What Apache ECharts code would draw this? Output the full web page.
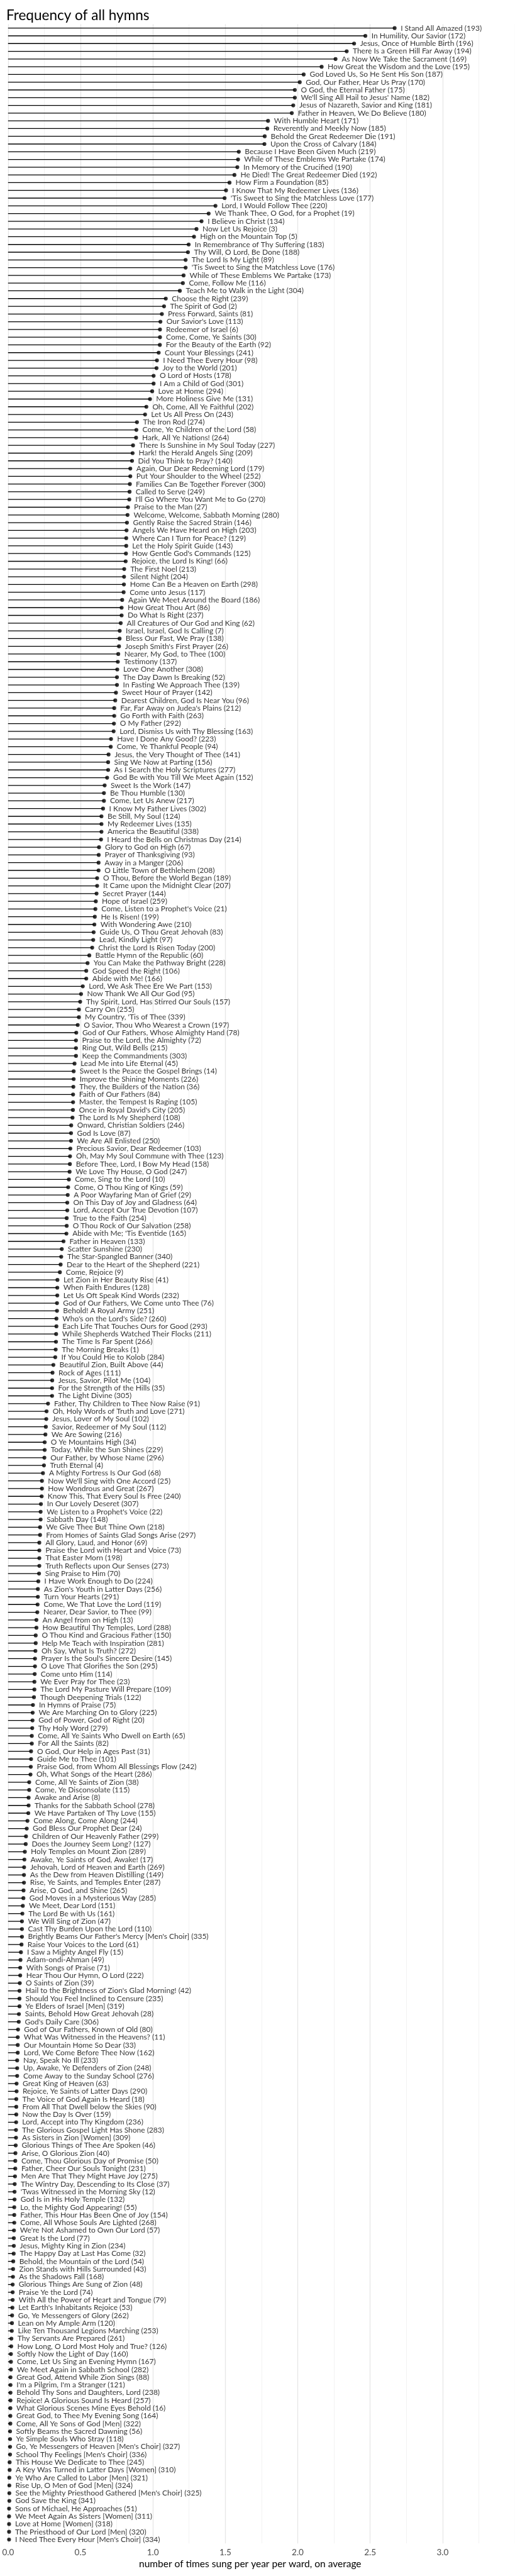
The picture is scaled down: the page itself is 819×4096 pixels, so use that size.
<!DOCTYPE html>
<html><head><meta charset="utf-8">
<script src="https://cdn.jsdelivr.net/npm/echarts@6/dist/echarts.min.js"></script>
<style>html,body{margin:0;padding:0;background:#fff}#c{width:819px;height:4096px}</style>
</head><body><div id="c"></div>
<script>
const hymnTitles = [
"I Stand All Amazed","In Humility, Our Savior","Jesus, Once of Humble Birth","There Is a Green Hill Far Away","As Now We Take the Sacrament","How Great the Wisdom and the Love","God Loved Us, So He Sent His Son","God, Our Father, Hear Us Pray","O God, the Eternal Father","We'll Sing All Hail to Jesus' Name",
"Jesus of Nazareth, Savior and King","Father in Heaven, We Do Believe","With Humble Heart","Reverently and Meekly Now","Behold the Great Redeemer Die","Upon the Cross of Calvary","Because I Have Been Given Much","While of These Emblems We Partake","In Memory of the Crucified","He Died! The Great Redeemer Died",
"How Firm a Foundation","I Know That My Redeemer Lives","'Tis Sweet to Sing the Matchless Love","Lord, I Would Follow Thee","We Thank Thee, O God, for a Prophet","I Believe in Christ","Now Let Us Rejoice","High on the Mountain Top","In Remembrance of Thy Suffering","Thy Will, O Lord, Be Done",
"The Lord Is My Light","'Tis Sweet to Sing the Matchless Love","While of These Emblems We Partake","Come, Follow Me","Teach Me to Walk in the Light","Choose the Right","The Spirit of God","Press Forward, Saints","Our Savior's Love","Redeemer of Israel",
"Come, Come, Ye Saints","For the Beauty of the Earth","Count Your Blessings","I Need Thee Every Hour","Joy to the World","O Lord of Hosts","I Am a Child of God","Love at Home","More Holiness Give Me","Oh, Come, All Ye Faithful",
"Let Us All Press On","The Iron Rod","Come, Ye Children of the Lord","Hark, All Ye Nations!","There Is Sunshine in My Soul Today","Hark! the Herald Angels Sing","Did You Think to Pray?","Again, Our Dear Redeeming Lord","Put Your Shoulder to the Wheel","Families Can Be Together Forever",
"Called to Serve","I'll Go Where You Want Me to Go","Praise to the Man","Welcome, Welcome, Sabbath Morning","Gently Raise the Sacred Strain","Angels We Have Heard on High","Where Can I Turn for Peace?","Let the Holy Spirit Guide","How Gentle God's Commands","Rejoice, the Lord Is King!",
"The First Noel","Silent Night","Home Can Be a Heaven on Earth","Come unto Jesus","Again We Meet Around the Board","How Great Thou Art","Do What Is Right","All Creatures of Our God and King","Israel, Israel, God Is Calling","Bless Our Fast, We Pray",
"Joseph Smith's First Prayer","Nearer, My God, to Thee","Testimony","Love One Another","The Day Dawn Is Breaking","In Fasting We Approach Thee","Sweet Hour of Prayer","Dearest Children, God Is Near You","Far, Far Away on Judea's Plains","Go Forth with Faith",
"O My Father","Lord, Dismiss Us with Thy Blessing","Have I Done Any Good?","Come, Ye Thankful People","Jesus, the Very Thought of Thee","Sing We Now at Parting","As I Search the Holy Scriptures","God Be with You Till We Meet Again","Sweet Is the Work","Be Thou Humble",
"Come, Let Us Anew","I Know My Father Lives","Be Still, My Soul","My Redeemer Lives","America the Beautiful","I Heard the Bells on Christmas Day","Glory to God on High","Prayer of Thanksgiving","Away in a Manger","O Little Town of Bethlehem",
"O Thou, Before the World Began","It Came upon the Midnight Clear","Secret Prayer","Hope of Israel","Come, Listen to a Prophet's Voice","He Is Risen!","With Wondering Awe","Guide Us, O Thou Great Jehovah","Lead, Kindly Light","Christ the Lord Is Risen Today",
"Battle Hymn of the Republic","You Can Make the Pathway Bright","God Speed the Right","Abide with Me!","Lord, We Ask Thee Ere We Part","Now Thank We All Our God","Thy Spirit, Lord, Has Stirred Our Souls","Carry On","My Country, 'Tis of Thee","O Savior, Thou Who Wearest a Crown",
"God of Our Fathers, Whose Almighty Hand","Praise to the Lord, the Almighty","Ring Out, Wild Bells","Keep the Commandments","Lead Me into Life Eternal","Sweet Is the Peace the Gospel Brings","Improve the Shining Moments","They, the Builders of the Nation","Faith of Our Fathers","Master, the Tempest Is Raging",
"Once in Royal David's City","The Lord Is My Shepherd","Onward, Christian Soldiers","God Is Love","We Are All Enlisted","Precious Savior, Dear Redeemer","Oh, May My Soul Commune with Thee","Before Thee, Lord, I Bow My Head","We Love Thy House, O God","Come, Sing to the Lord",
"Come, O Thou King of Kings","A Poor Wayfaring Man of Grief","On This Day of Joy and Gladness","Lord, Accept Our True Devotion","True to the Faith","O Thou Rock of Our Salvation","Abide with Me; 'Tis Eventide","Father in Heaven","Scatter Sunshine","The Star-Spangled Banner",
"Dear to the Heart of the Shepherd","Come, Rejoice","Let Zion in Her Beauty Rise","When Faith Endures","Let Us Oft Speak Kind Words","God of Our Fathers, We Come unto Thee","Behold! A Royal Army","Who's on the Lord's Side?","Each Life That Touches Ours for Good","While Shepherds Watched Their Flocks",
"The Time Is Far Spent","The Morning Breaks","If You Could Hie to Kolob","Beautiful Zion, Built Above","Rock of Ages","Jesus, Savior, Pilot Me","For the Strength of the Hills","The Light Divine","Father, Thy Children to Thee Now Raise","Oh, Holy Words of Truth and Love",
"Jesus, Lover of My Soul","Savior, Redeemer of My Soul","We Are Sowing","O Ye Mountains High","Today, While the Sun Shines","Our Father, by Whose Name","Truth Eternal","A Mighty Fortress Is Our God","Now We'll Sing with One Accord","How Wondrous and Great",
"Know This, That Every Soul Is Free","In Our Lovely Deseret","We Listen to a Prophet's Voice","Sabbath Day","We Give Thee But Thine Own","From Homes of Saints Glad Songs Arise","All Glory, Laud, and Honor","Praise the Lord with Heart and Voice","That Easter Morn","Truth Reflects upon Our Senses",
"Sing Praise to Him","I Have Work Enough to Do","As Zion's Youth in Latter Days","Turn Your Hearts","Come, We That Love the Lord","Nearer, Dear Savior, to Thee","An Angel from on High","How Beautiful Thy Temples, Lord","O Thou Kind and Gracious Father","Help Me Teach with Inspiration",
"Oh Say, What Is Truth?","Prayer Is the Soul's Sincere Desire","O Love That Glorifies the Son","Come unto Him","We Ever Pray for Thee","The Lord My Pasture Will Prepare","Though Deepening Trials","In Hymns of Praise","We Are Marching On to Glory","God of Power, God of Right",
"Thy Holy Word","Come, All Ye Saints Who Dwell on Earth","For All the Saints","O God, Our Help in Ages Past","Guide Me to Thee","Praise God, from Whom All Blessings Flow","Oh, What Songs of the Heart","Come, All Ye Saints of Zion","Come, Ye Disconsolate","Awake and Arise",
"Thanks for the Sabbath School","We Have Partaken of Thy Love","Come Along, Come Along","God Bless Our Prophet Dear","Children of Our Heavenly Father","Does the Journey Seem Long?","Holy Temples on Mount Zion","Awake, Ye Saints of God, Awake!","Jehovah, Lord of Heaven and Earth","As the Dew from Heaven Distilling",
"Rise, Ye Saints, and Temples Enter","Arise, O God, and Shine","God Moves in a Mysterious Way","We Meet, Dear Lord","The Lord Be with Us","We Will Sing of Zion","Cast Thy Burden Upon the Lord","Brightly Beams Our Father's Mercy [Men's Choir]","Raise Your Voices to the Lord","I Saw a Mighty Angel Fly",
"Adam-ondi-Ahman","With Songs of Praise","Hear Thou Our Hymn, O Lord","O Saints of Zion","Hail to the Brightness of Zion's Glad Morning!","Should You Feel Inclined to Censure","Ye Elders of Israel [Men]","Saints, Behold How Great Jehovah","God's Daily Care","God of Our Fathers, Known of Old",
"What Was Witnessed in the Heavens?","Our Mountain Home So Dear","Lord, We Come Before Thee Now","Nay, Speak No Ill","Up, Awake, Ye Defenders of Zion","Come Away to the Sunday School","Great King of Heaven","Rejoice, Ye Saints of Latter Days","The Voice of God Again Is Heard","From All That Dwell below the Skies",
"Now the Day Is Over","Lord, Accept into Thy Kingdom","The Glorious Gospel Light Has Shone","As Sisters in Zion [Women]","Glorious Things of Thee Are Spoken","Arise, O Glorious Zion","Come, Thou Glorious Day of Promise","Father, Cheer Our Souls Tonight","Men Are That They Might Have Joy","The Wintry Day, Descending to Its Close",
"'Twas Witnessed in the Morning Sky","God Is in His Holy Temple","Lo, the Mighty God Appearing!","Father, This Hour Has Been One of Joy","Come, All Whose Souls Are Lighted","We're Not Ashamed to Own Our Lord","Great Is the Lord","Jesus, Mighty King in Zion","The Happy Day at Last Has Come","Behold, the Mountain of the Lord",
"Zion Stands with Hills Surrounded","As the Shadows Fall","Glorious Things Are Sung of Zion","Praise Ye the Lord","With All the Power of Heart and Tongue","Let Earth's Inhabitants Rejoice","Go, Ye Messengers of Glory","Lean on My Ample Arm","Like Ten Thousand Legions Marching","Thy Servants Are Prepared",
"How Long, O Lord Most Holy and True?","Softly Now the Light of Day","Come, Let Us Sing an Evening Hymn","We Meet Again in Sabbath School","Great God, Attend While Zion Sings","I'm a Pilgrim, I'm a Stranger","Behold Thy Sons and Daughters, Lord","Rejoice! A Glorious Sound Is Heard","What Glorious Scenes Mine Eyes Behold","Great God, to Thee My Evening Song",
"Come, All Ye Sons of God [Men]","Softly Beams the Sacred Dawning","Ye Simple Souls Who Stray","Go, Ye Messengers of Heaven [Men's Choir]","School Thy Feelings [Men's Choir]","This House We Dedicate to Thee","A Key Was Turned in Latter Days [Women]","Ye Who Are Called to Labor [Men]","Rise Up, O Men of God [Men]","See the Mighty Priesthood Gathered [Men's Choir]",
"God Save the King","Sons of Michael, He Approaches","We Meet Again As Sisters [Women]","Love at Home [Women]","The Priesthood of Our Lord [Men]","I Need Thee Every Hour [Men's Choir]"
];
const hymnNumbers = [
193,172,196,194,169,195,187,170,175,182,
181,180,171,185,191,184,219,174,190,192,
85,136,177,220,19,134,3,5,183,188,
89,176,173,116,304,239,2,81,113,6,
30,92,241,98,201,178,301,294,131,202,
243,274,58,264,227,209,140,179,252,300,
249,270,27,280,146,203,129,143,125,66,
213,204,298,117,186,86,237,62,7,138,
26,100,137,308,52,139,142,96,212,263,
292,163,223,94,141,156,277,152,147,130,
217,302,124,135,338,214,67,93,206,208,
189,207,144,259,21,199,210,83,97,200,
60,228,106,166,153,95,157,255,339,197,
78,72,215,303,45,14,226,36,84,105,
205,108,246,87,250,103,123,158,247,10,
59,29,64,107,254,258,165,133,230,340,
221,9,41,128,232,76,251,260,293,211,
266,1,284,44,111,104,35,305,91,271,
102,112,216,34,229,296,4,68,25,267,
240,307,22,148,218,297,69,73,198,273,
70,224,256,291,119,99,13,288,150,281,
272,145,295,114,23,109,122,75,225,20,
279,65,82,31,101,242,286,38,115,8,
278,155,244,24,299,127,289,17,269,149,
287,265,285,151,161,47,110,335,61,15,
49,71,222,39,42,235,319,28,306,80,
11,33,162,233,248,276,63,290,18,90,
159,236,283,309,46,40,50,231,275,37,
12,132,55,154,268,57,77,234,32,54,
43,168,48,74,79,53,262,120,253,261,
126,160,167,282,88,121,238,257,16,164,
322,56,118,327,336,245,310,321,324,325,
341,51,311,318,320,334
];
const timesPerYear = [
2.669,2.467,2.389,2.338,2.261,2.165,2.041,2.014,1.980,1.980,
1.969,1.959,1.795,1.790,1.772,1.770,1.593,1.588,1.583,1.563,
1.529,1.505,1.495,1.432,1.385,1.336,1.301,1.284,1.247,1.242,
1.226,1.226,1.212,1.207,1.186,1.089,1.077,1.062,1.052,1.049,
1.049,1.048,1.040,1.028,1.025,1.005,1.005,0.995,0.980,0.955,
0.946,0.890,0.886,0.884,0.863,0.860,0.856,0.844,0.844,0.841,
0.839,0.837,0.828,0.825,0.821,0.818,0.816,0.816,0.814,0.812,
0.802,0.801,0.800,0.798,0.788,0.784,0.784,0.778,0.771,0.770,
0.766,0.761,0.758,0.754,0.752,0.752,0.745,0.740,0.733,0.733,
0.731,0.729,0.711,0.709,0.694,0.691,0.691,0.684,0.667,0.662,
0.662,0.656,0.645,0.645,0.645,0.642,0.628,0.626,0.625,0.625,
0.615,0.615,0.611,0.606,0.603,0.599,0.596,0.591,0.588,0.581,
0.561,0.549,0.540,0.540,0.516,0.504,0.498,0.489,0.489,0.481,
0.471,0.469,0.469,0.469,0.459,0.453,0.453,0.451,0.449,0.449,
0.448,0.445,0.436,0.435,0.435,0.430,0.428,0.427,0.425,0.420,
0.415,0.412,0.409,0.409,0.405,0.405,0.403,0.383,0.371,0.367,
0.363,0.358,0.341,0.340,0.340,0.338,0.338,0.334,0.334,0.332,
0.331,0.329,0.326,0.313,0.307,0.305,0.304,0.304,0.276,0.266,
0.264,0.261,0.258,0.253,0.253,0.251,0.248,0.241,0.234,0.234,
0.232,0.227,0.225,0.225,0.221,0.221,0.216,0.216,0.216,0.216,
0.214,0.209,0.206,0.206,0.204,0.202,0.196,0.196,0.191,0.191,
0.189,0.186,0.186,0.184,0.182,0.182,0.179,0.172,0.170,0.169,
0.167,0.164,0.164,0.159,0.159,0.157,0.155,0.146,0.146,0.142,
0.142,0.140,0.134,0.129,0.124,0.122,0.116,0.113,0.111,0.110,
0.110,0.107,0.106,0.102,0.099,0.096,0.096,0.096,0.093,0.089,
0.086,0.084,0.084,0.081,0.079,0.079,0.079,0.075,0.074,0.069,
0.067,0.067,0.067,0.063,0.063,0.063,0.059,0.059,0.057,0.057,
0.057,0.056,0.055,0.055,0.053,0.051,0.050,0.050,0.048,0.046,
0.045,0.045,0.043,0.043,0.043,0.041,0.040,0.040,0.039,0.036,
0.035,0.034,0.032,0.032,0.032,0.030,0.028,0.027,0.026,0.023,
0.022,0.020,0.020,0.020,0.017,0.017,0.017,0.017,0.016,0.016,
0.016,0.014,0.014,0.014,0.014,0.011,0.011,0.009,0.009,0.009,
0.009,0.007,0.007,0.007,0.007,0.007
];
const xTickLabels = ["0.0","0.5","1.0","1.5","2.0","2.5","3.0"];
const chartTitle = "Frequency of all hymns";
const xAxisTitle = "number of times sung per year per ward, on average";

const categories = hymnTitles.map((t, i) => t + " (" + hymnNumbers[i] + ")");
const FONT = "Lato, 'Noto Sans', sans-serif";

const chart = echarts.init(document.getElementById('c'), null, {renderer: 'canvas'});
chart.setOption({
  animation: false,
  backgroundColor: '#ffffff',
  title: {
    text: chartTitle, left: 5, top: 8,
    textStyle: {fontFamily: FONT, fontSize: 22.5, fontWeight: 'normal', color: '#000'}
  },
  grid: {left: 12.8, top: 38.55, width: 828.8, height: 4005.6, containLabel: false},
  xAxis: {
    type: 'value', min: 0, max: 3.5, interval: 0.5,
    axisLine: {show: false}, axisTick: {show: false},
    minorTick: {show: false, splitNumber: 2},
    splitLine: {show: true, lineStyle: {color: '#e6e6e6', width: 1.3}},
    minorSplitLine: {show: true, lineStyle: {color: '#efefef', width: 0.8}},
    axisLabel: {
      margin: 7, fontFamily: FONT, fontSize: 13.5, color: '#4d4d4d',
      showMaxLabel: false,
      formatter: function (v) {
        const idx = Math.round(v / 0.5);
        return (Math.abs(v - idx * 0.5) < 1e-9 && idx < xTickLabels.length) ? xTickLabels[idx] : '';
      }
    }
  },
  yAxis: {
    type: 'category', inverse: true, data: categories,
    axisLine: {show: false}, axisTick: {show: false}, axisLabel: {show: false},
    splitLine: {show: false}
  },
  graphic: [{
    type: 'text', left: 401 - 180, top: 4069,
    style: {text: xAxisTitle, fontFamily: FONT, fontSize: 15.5, fill: '#000', width: 360, align: 'center'}
  }],
  series: [
    {
      type: 'bar', data: timesPerYear, barWidth: 1.3, silent: true,
      itemStyle: {color: '#000'}, z: 2
    },
    {
      type: 'scatter', data: timesPerYear.map((v, i) => [v, i]),
      symbol: 'circle', symbolSize: 6.2, silent: true,
      itemStyle: {color: '#000'}, z: 3,
      label: {
        show: true, position: 'right', distance: 6.5,
        fontFamily: FONT, fontSize: 12, color: '#000',
        formatter: function (p) { return categories[p.dataIndex]; }
      }
    }
  ]
});
</script>
</body></html>
